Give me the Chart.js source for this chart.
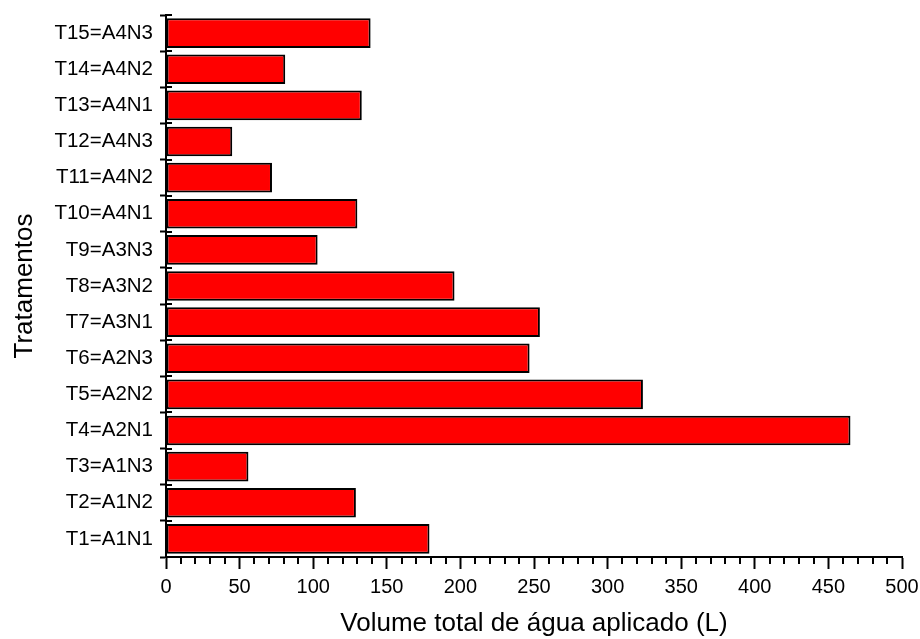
<!DOCTYPE html>
<html>
<head>
<meta charset="utf-8">
<script src="https://cdn.jsdelivr.net/npm/chart.js@4/dist/chart.umd.min.js"></script>
<style>
  html, body { margin: 0; padding: 0; background: #fff; }
  #wrap { width: 920px; height: 639px; }
</style>
</head>
<body>
<div id="wrap"><canvas id="chart"></canvas></div>
<script>
const treatments = ['T1=A1N1', 'T2=A1N2', 'T3=A1N3', 'T4=A2N1', 'T5=A2N2', 'T6=A2N3', 'T7=A3N1', 'T8=A3N2',
    'T9=A3N3', 'T10=A4N1', 'T11=A4N2', 'T12=A4N3', 'T13=A4N1', 'T14=A4N2', 'T15=A4N3'];
const volume = [179, 129, 56, 465, 324, 247, 254, 196, 103, 130, 72, 45, 133, 81, 139];
const xTicks = [0, 50, 100, 150, 200, 250, 300, 350, 400, 450, 500];
const minorStep = 10;

const FONT = '"Liberation Sans", Arial, sans-serif';

// minor ticks on x and the inner half of the y ticks
const extraTicks = {
    id: 'extraTicks',
    afterDraw(chart) {
        const { ctx } = chart;
        const x = chart.scales.x;
        const y = chart.scales.y;
        ctx.save();
        ctx.strokeStyle = '#000';
        ctx.lineWidth = 2;
        ctx.beginPath();
        for (let v = x.min; v <= x.max; v += minorStep) {
            if (xTicks.includes(v)) continue;
            const px = Math.round(x.getPixelForValue(v));
            ctx.moveTo(px, x.top);
            ctx.lineTo(px, x.top + 7);
        }
        for (let i = 0; i <= treatments.length; i++) {
            const py = Math.round(y.getPixelForValue(i - 0.5));
            ctx.moveTo(y.right, py);
            ctx.lineTo(y.right + 6, py);
        }
        ctx.stroke();
        ctx.restore();
    }
};

new Chart(document.getElementById('chart'), {
    type: 'bar',
    data: {
        labels: treatments,
        datasets: [{
            data: volume,
            backgroundColor: '#ff0000',
            borderColor: '#000',
            borderWidth: 2,
            borderSkipped: false,
            barPercentage: 0.82,
            categoryPercentage: 1
        }]
    },
    options: {
        indexAxis: 'y',
        responsive: true,
        maintainAspectRatio: false,
        animation: false,
        layout: { padding: { top: 15, right: 18, left: 0, bottom: 0 } },
        plugins: {
            legend: { display: false },
            tooltip: { enabled: false }
        },
        scales: {
            x: {
                min: 0,
                max: 500,
                afterFit: s => { s.height = 82; s.paddingLeft = 0; s.paddingRight = 0; },
                afterBuildTicks: s => { s.ticks = xTicks.map(v => ({ value: v })); },
                border: { color: '#000', width: 2 },
                grid: { drawOnChartArea: false, color: '#000', tickLength: 12, tickWidth: 2 },
                ticks: { color: '#000', padding: 6, font: { family: FONT, size: 20 }, maxRotation: 0 },
                title: {
                    display: true,
                    text: 'Volume total de água aplicado (L)',
                    color: '#000',
                    font: { family: FONT, size: 26 },
                    padding: 0
                }
            },
            y: {
                reverse: true,
                afterFit: s => { s.width = 166; s.paddingTop = 0; s.paddingBottom = 0; },
                border: { color: '#000', width: 2 },
                grid: { drawOnChartArea: false, color: '#000', tickLength: 6, tickWidth: 2, offset: true },
                ticks: { color: '#000', padding: 7, font: { family: FONT, size: 20.5 } },
                title: {
                    display: true,
                    text: 'Tratamentos',
                    color: '#000',
                    font: { family: FONT, size: 26 },
                    padding: { top: 9, bottom: 0 }
                }
            }
        }
    },
    plugins: [extraTicks]
});
</script>
</body>
</html>
